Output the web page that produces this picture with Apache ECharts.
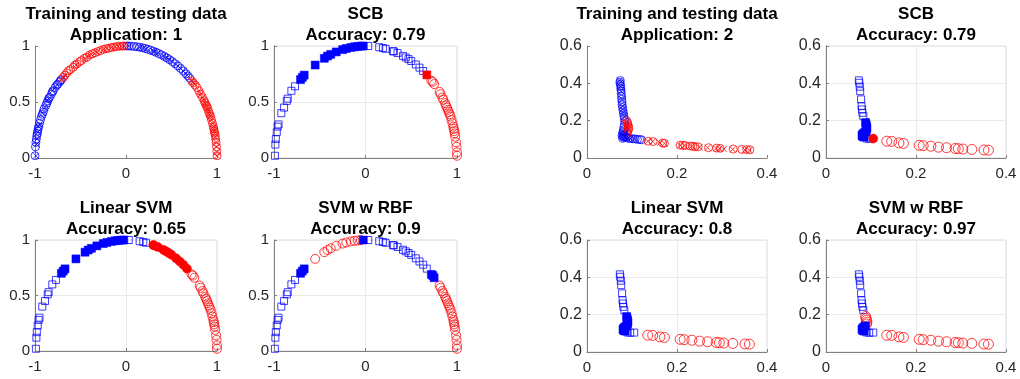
<!DOCTYPE html>
<html>
<head>
<meta charset="utf-8">
<script src="https://cdn.jsdelivr.net/npm/echarts@6/dist/echarts.min.js"></script>
<style>
html, body { margin: 0; padding: 0; background: #fff; }
#main { width: 1020px; height: 379px; }
</style>
</head>
<body>
<div id="main"></div>
<script>
// ---- Application 1 (half circle) ----
var app1TrainBlue = [
    [-1.0, 0.02], [-0.995, 0.10], [-0.99, 0.14], [-0.985, 0.17], [-0.98, 0.20], [-0.975, 0.22],
    [-0.97, 0.24], [-0.965, 0.26], [-0.96, 0.28], [-0.95, 0.31], [-0.94, 0.34], [-0.93, 0.37],
    [-0.92, 0.39], [-0.91, 0.41], [-0.90, 0.44], [-0.88, 0.47], [-0.87, 0.49], [-0.86, 0.51],
    [-0.85, 0.53], [-0.84, 0.54], [-0.82, 0.57], [-0.81, 0.59], [-0.80, 0.60], [-0.78, 0.63],
    [-0.76, 0.65], [-0.75, 0.66], [-0.73, 0.68], [-0.72, 0.69], [-0.71, 0.70],
    [0.01, 1.0], [0.03, 1.0], [0.06, 0.998], [0.09, 0.996], [0.12, 0.993], [0.15, 0.989],
    [0.18, 0.984], [0.21, 0.978], [0.24, 0.971], [0.27, 0.963], [0.30, 0.954], [0.33, 0.944],
    [0.36, 0.933], [0.39, 0.921], [0.42, 0.908], [0.45, 0.893], [0.48, 0.877], [0.51, 0.86],
    [0.54, 0.842], [0.57, 0.822], [0.60, 0.80], [0.63, 0.777], [0.66, 0.751], [0.68, 0.733], [0.70, 0.714]
];
var app1TrainRed = [
    [-0.69, 0.72], [-0.67, 0.74], [-0.65, 0.76], [-0.63, 0.78], [-0.61, 0.79], [-0.58, 0.81],
    [-0.56, 0.83], [-0.54, 0.84], [-0.51, 0.86], [-0.49, 0.87], [-0.46, 0.89], [-0.43, 0.90],
    [-0.40, 0.92], [-0.37, 0.93], [-0.34, 0.94], [-0.31, 0.95], [-0.28, 0.96], [-0.25, 0.97],
    [-0.22, 0.976], [-0.19, 0.98], [-0.16, 0.987], [-0.13, 0.99], [-0.10, 0.995], [-0.07, 0.998],
    [-0.04, 0.999], [-0.02, 1.0],
    [0.72, 0.69], [0.74, 0.67], [0.76, 0.65], [0.78, 0.63], [0.80, 0.60], [0.82, 0.57],
    [0.84, 0.54], [0.86, 0.51], [0.87, 0.49], [0.88, 0.47], [0.89, 0.46], [0.90, 0.44],
    [0.91, 0.41], [0.92, 0.39], [0.93, 0.37], [0.94, 0.34], [0.95, 0.31], [0.96, 0.28],
    [0.965, 0.26], [0.97, 0.24], [0.975, 0.22], [0.98, 0.20], [0.985, 0.17], [0.99, 0.14],
    [0.995, 0.10], [0.998, 0.06], [1.0, 0.02]
];
// test points, by region along the arc
var app1TestA = [
    [-0.99, 0.02], [-0.985, 0.12], [-0.98, 0.17], [-0.97, 0.23], [-0.96, 0.28], [-0.95, 0.30],
    [-0.92, 0.40], [-0.89, 0.45], [-0.86, 0.51], [-0.85, 0.53], [-0.81, 0.60], [-0.77, 0.64]
];
var app1TestB = [
    [-0.71, 0.70], [-0.69, 0.72], [-0.67, 0.74], [-0.55, 0.83], [-0.45, 0.89], [-0.415, 0.91],
    [-0.38, 0.925], [-0.32, 0.947], [-0.25, 0.968], [-0.21, 0.978], [-0.16, 0.987], [-0.12, 0.993],
    [-0.086, 0.996], [-0.05, 0.999], [-0.024, 1.0]
];
var app1TestC = [
    [0.03, 1.0], [0.15, 0.989], [0.19, 0.982], [0.22, 0.975], [0.30, 0.954], [0.31, 0.951],
    [0.35, 0.937], [0.41, 0.912], [0.44, 0.898], [0.47, 0.883], [0.50, 0.866], [0.55, 0.835],
    [0.59, 0.807], [0.63, 0.777], [0.67, 0.742]
];
var app1TestD = [
    [0.72, 0.69], [0.735, 0.68], [0.75, 0.66], [0.81, 0.59], [0.82, 0.57], [0.84, 0.54],
    [0.85, 0.52], [0.87, 0.49], [0.88, 0.47], [0.89, 0.45], [0.90, 0.43], [0.91, 0.41],
    [0.92, 0.39], [0.93, 0.37], [0.94, 0.34], [0.95, 0.31], [0.96, 0.28], [0.965, 0.26],
    [0.97, 0.24], [0.975, 0.22], [0.98, 0.19], [0.99, 0.14], [0.995, 0.10], [1.0, 0.05], [1.0, 0.02]
];

// ---- Application 2 (L shape) ----
var app2TrainBlue = [
    [0.074, 0.415], [0.073, 0.405], [0.074, 0.395], [0.075, 0.385], [0.075, 0.37], [0.076, 0.36],
    [0.076, 0.345], [0.077, 0.33], [0.077, 0.315], [0.078, 0.30], [0.078, 0.285], [0.079, 0.27],
    [0.080, 0.255], [0.081, 0.24], [0.082, 0.225], [0.083, 0.21], [0.084, 0.195], [0.083, 0.18],
    [0.082, 0.165], [0.081, 0.15], [0.080, 0.14], [0.079, 0.13], [0.078, 0.12], [0.080, 0.115],
    [0.082, 0.11], [0.079, 0.105], [0.083, 0.125], [0.085, 0.115], [0.088, 0.11], [0.092, 0.105],
    [0.097, 0.104], [0.102, 0.103], [0.107, 0.102], [0.112, 0.10], [0.117, 0.099], [0.121, 0.098]
];
var app2TrainRed = [
    [0.088, 0.20], [0.090, 0.19], [0.091, 0.18], [0.092, 0.17], [0.093, 0.16], [0.092, 0.15],
    [0.090, 0.14], [0.089, 0.13],
    [0.136, 0.09], [0.147, 0.088], [0.168, 0.08], [0.172, 0.079], [0.207, 0.069], [0.213, 0.068],
    [0.218, 0.067], [0.229, 0.064], [0.235, 0.063], [0.240, 0.061], [0.247, 0.06], [0.270, 0.055],
    [0.288, 0.053], [0.296, 0.052], [0.325, 0.048], [0.344, 0.046], [0.355, 0.045], [0.362, 0.044]
];
var app2TestVert = [
    [0.073, 0.416], [0.074, 0.403], [0.075, 0.382], [0.076, 0.358], [0.078, 0.314],
    [0.079, 0.278], [0.080, 0.26], [0.081, 0.242], [0.083, 0.224]
];
var app2TestUpper = [[0.088, 0.19], [0.089, 0.18], [0.090, 0.17], [0.091, 0.16], [0.090, 0.15]];
var app2TestLower = [
    [0.088, 0.14], [0.085, 0.135], [0.083, 0.13], [0.081, 0.125], [0.080, 0.12],
    [0.082, 0.115], [0.085, 0.112]
];
var app2TestLow = [[0.090, 0.105], [0.096, 0.103]];
var app2TestEdge = [[0.105, 0.104]];
var app2TestHoriz = [
    [0.135, 0.09], [0.146, 0.089], [0.162, 0.081], [0.172, 0.078], [0.207, 0.068], [0.216, 0.066],
    [0.233, 0.063], [0.250, 0.058], [0.268, 0.055], [0.287, 0.051], [0.294, 0.05], [0.304, 0.048],
    [0.324, 0.046], [0.351, 0.043], [0.361, 0.042]
];

var titles = [
    'Training and testing data\nApplication: 1', 'SCB\nAccuracy: 0.79',
    'Linear SVM\nAccuracy: 0.65', 'SVM w RBF\nAccuracy: 0.9',
    'Training and testing data\nApplication: 2', 'SCB\nAccuracy: 0.79',
    'Linear SVM\nAccuracy: 0.8', 'SVM w RBF\nAccuracy: 0.97'
];

var BLUE = '#0000ff', RED = '#ff0000';
var CROSS = 'path://M0,0L10,10M10,0L0,10';

var grids = [
    { left: 35, top: 46, width: 182, height: 112 },
    { left: 274, top: 46, width: 183, height: 112 },
    { left: 35, top: 240, width: 182, height: 111 },
    { left: 274, top: 240, width: 183, height: 111 },
    { left: 587, top: 46, width: 180, height: 112 },
    { left: 826, top: 46, width: 180, height: 112 },
    { left: 587, top: 240, width: 180, height: 112 },
    { left: 826, top: 240, width: 180, height: 112 }
];
var boxed = [false, true, true, true, false, true, true, true];

function sc(g, data, shape, color, filled, size) {
    return {
        type: 'scatter',
        xAxisIndex: g,
        yAxisIndex: g,
        data: data,
        symbol: shape,
        symbolSize: size,
        silent: true,
        itemStyle: filled ? {
            color: color, borderColor: color, borderWidth: 0.5, opacity: 1
        } : {
            color: 'transparent', borderColor: color, borderWidth: 0.9, opacity: 0.85
        }
    };
}

var option = {
    animation: false,
    backgroundColor: '#fff',
    title: titles.map(function (t, i) {
        var g = grids[i];
        return {
            text: t,
            left: g.left + g.width / 2,
            top: i % 4 < 2 ? 4 : 198,
            padding: 0,
            textAlign: 'center',
            textStyle: {
                fontFamily: 'Liberation Sans',
                fontSize: 17,
                fontWeight: 'bold',
                color: '#000',
                lineHeight: 21
            }
        };
    }),
    grid: grids.map(function (g, i) {
        return {
            left: g.left, top: g.top, width: g.width, height: g.height,
            show: boxed[i], borderColor: '#dcdcdc', borderWidth: 1
        };
    }),
    xAxis: grids.map(function (g, i) {
        var app1 = i < 4;
        return {
            type: 'value', gridIndex: i,
            min: app1 ? -1 : 0, max: app1 ? 1 : 0.4, interval: app1 ? 1 : 0.2,
            axisLine: { onZero: false, lineStyle: { color: '#808080', width: 1 } },
            axisTick: { inside: true, length: 3, lineStyle: { color: '#808080' } },
            axisLabel: { margin: 8, fontFamily: 'Liberation Sans', fontSize: 15, color: '#262626' },
            splitLine: { show: boxed[i], lineStyle: { color: '#ebebeb', width: 1 } }
        };
    }),
    yAxis: grids.map(function (g, i) {
        var app1 = i < 4;
        return {
            type: 'value', gridIndex: i,
            min: 0, max: app1 ? 1 : 0.6, interval: app1 ? 0.5 : 0.2,
            axisLine: { show: true, onZero: false, lineStyle: { color: '#808080', width: 1 } },
            axisTick: { show: true, inside: true, length: 3, lineStyle: { color: '#808080' } },
            axisLabel: { margin: 5, fontFamily: 'Liberation Sans', fontSize: app1 ? 15 : 16, color: '#262626' },
            splitLine: { show: boxed[i], lineStyle: { color: '#ebebeb', width: 1 } }
        };
    }),
    series: [
        // panel 1: training (circles) and testing (crosses)
        sc(0, app1TrainBlue, 'circle', BLUE, false, 8),
        sc(0, app1TrainRed, 'circle', RED, false, 8),
        sc(0, app1TestA.concat(app1TestC), CROSS, BLUE, false, 6),
        sc(0, app1TestB.concat(app1TestD), CROSS, RED, false, 6),
        // panel 2: SCB
        sc(1, app1TestA.concat(app1TestC.slice(0, -1)), 'rect', BLUE, false, 7),
        sc(1, app1TestB, 'rect', BLUE, true, 8),
        sc(1, app1TestD, 'circle', RED, false, 9),
        sc(1, app1TestC.slice(-1), 'rect', RED, true, 8),
        // panel 3: Linear SVM
        sc(2, app1TestA.concat(app1TestC.slice(0, 4)), 'rect', BLUE, false, 7),
        sc(2, app1TestB, 'rect', BLUE, true, 8),
        sc(2, app1TestC.slice(4), 'circle', RED, true, 9),
        sc(2, app1TestD, 'circle', RED, false, 9),
        // panel 4: SVM w RBF
        sc(3, app1TestA.concat(app1TestC), 'rect', BLUE, false, 7),
        sc(3, app1TestB.slice(3, -1).concat(app1TestD.slice(3)), 'circle', RED, false, 9),
        sc(3, app1TestB.slice(0, 3).concat(app1TestB.slice(-1), app1TestD.slice(0, 3)), 'rect', BLUE, true, 8),
        // panel 5: training and testing, application 2
        sc(4, app2TrainBlue, 'circle', BLUE, false, 8),
        sc(4, app2TrainRed, 'circle', RED, false, 8),
        sc(4, app2TestVert.concat(app2TestLower, app2TestLow, app2TestEdge), CROSS, BLUE, false, 6),
        sc(4, app2TestUpper.concat(app2TestHoriz), CROSS, RED, false, 6),
        // panel 6: SCB
        sc(5, app2TestVert.concat(app2TestLow), 'rect', BLUE, false, 7),
        sc(5, app2TestUpper.concat(app2TestLower), 'rect', BLUE, true, 8),
        sc(5, app2TestHoriz, 'circle', RED, false, 10),
        sc(5, app2TestEdge, 'circle', RED, true, 9),
        // panel 7: Linear SVM
        sc(6, app2TestVert.concat(app2TestLow, app2TestEdge), 'rect', BLUE, false, 7),
        sc(6, app2TestUpper.concat(app2TestLower), 'rect', BLUE, true, 8),
        sc(6, app2TestHoriz, 'circle', RED, false, 10),
        // panel 8: SVM w RBF
        sc(7, app2TestVert.concat(app2TestLow, app2TestEdge), 'rect', BLUE, false, 7),
        sc(7, app2TestUpper.concat(app2TestHoriz), 'circle', RED, false, 10),
        sc(7, app2TestLower, 'rect', BLUE, true, 8)
    ]
};

var myChart = echarts.init(document.getElementById('main'));
myChart.setOption(option);
</script>
</body>
</html>
